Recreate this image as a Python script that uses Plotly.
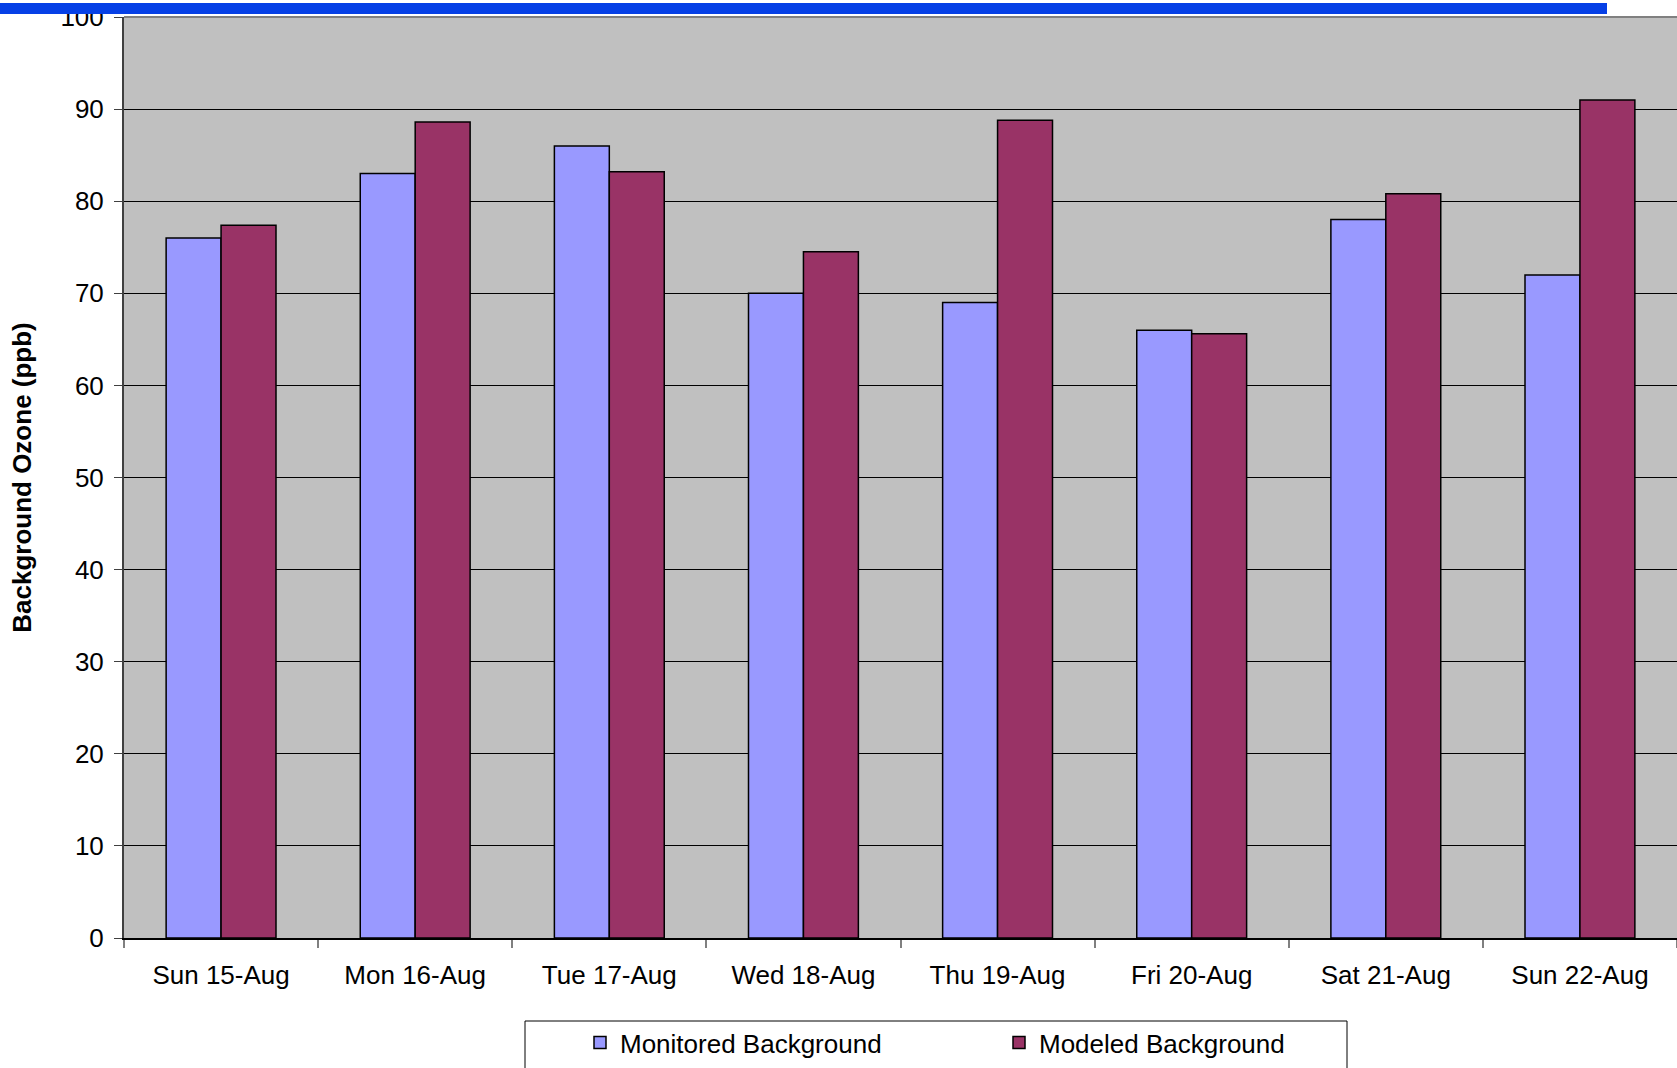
import plotly.graph_objects as go

# Daily background ozone, monitored vs. modeled (ppb)
days = ["Sun 15-Aug", "Mon 16-Aug", "Tue 17-Aug", "Wed 18-Aug",
        "Thu 19-Aug", "Fri 20-Aug", "Sat 21-Aug", "Sun 22-Aug"]
monitored = [76, 83, 86, 70, 69, 66, 78, 72]
modeled = [77.4, 88.6, 83.2, 74.5, 88.8, 65.6, 80.8, 91.0]
y_ticks = list(range(0, 101, 10))

W, H = 1677, 1068
L, R, T, B = 124, 0, 17, 130
PW, PH = W - L - R, H - T - B


def px_x(p):
    return (p - L) / PW


def px_y(p):
    return (H - B - p) / PH


FONT = "Liberation Sans, Arial, sans-serif"

fig = go.Figure()
fig.add_trace(go.Bar(
    x=days, y=monitored, name="Monitored Background",
    marker=dict(color="#9999FF", line=dict(color="black", width=1.5)),
))
fig.add_trace(go.Bar(
    x=days, y=modeled, name="Modeled Background",
    marker=dict(color="#993366", line=dict(color="black", width=1.5)),
))

shapes = [
    # blue rule across the top of the page
    dict(type="rect", xref="paper", yref="paper",
         x0=px_x(0), x1=px_x(1607), y0=px_y(14), y1=px_y(3),
         fillcolor="#0640E6", line=dict(width=0), layer="above"),
    # plot-area top border
    dict(type="line", xref="paper", yref="paper",
         x0=0, x1=1, y0=1, y1=1, line=dict(color="#808080", width=2), layer="above"),
    # legend frame
    dict(type="rect", xref="paper", yref="paper",
         x0=px_x(525), x1=px_x(1347), y0=px_y(1090), y1=px_y(1021),
         fillcolor="white", line=dict(color="black", width=1), layer="below"),
]

fig.update_layout(
    width=W, height=H,
    margin=dict(l=L, r=R, t=T, b=B, pad=0),
    paper_bgcolor="white",
    plot_bgcolor="#C0C0C0",
    font=dict(family=FONT, size=26, color="black"),
    barmode="group",
    bargap=0.434,
    bargroupgap=0,
    shapes=shapes,
    showlegend=True,
    legend=dict(
        orientation="h",
        x=px_x(580), xanchor="left",
        y=px_y(1019), yanchor="top",
        bgcolor="rgba(0,0,0,0)", borderwidth=0,
        font=dict(family=FONT, size=26, color="black"),
        entrywidth=374, entrywidthmode="pixels",
        traceorder="normal",
    ),
)

fig.update_xaxes(
    range=[-0.5, 7.5],
    showline=True, linecolor="black", linewidth=1.5,
    ticks="outside", tickson="boundaries", ticklen=8, tickcolor="#808080", tickwidth=2,
    showgrid=False,
    tickfont=dict(family=FONT, size=26, color="black"),
    ticklabelstandoff=13,
)
fig.update_yaxes(
    range=[0, 100], tickvals=y_ticks,
    showline=True, linecolor="#404040", linewidth=2,
    ticks="outside", ticklen=8, tickcolor="#404040", tickwidth=1,
    showgrid=True, gridcolor="black", gridwidth=1,
    zeroline=False,
    tickfont=dict(family=FONT, size=26, color="black"),
    ticklabelstandoff=5,
    title=dict(text="Background Ozone (ppb)", standoff=21,
               font=dict(family=FONT, size=26, color="black", weight="bold")),
)

fig.write_html("out.html")
